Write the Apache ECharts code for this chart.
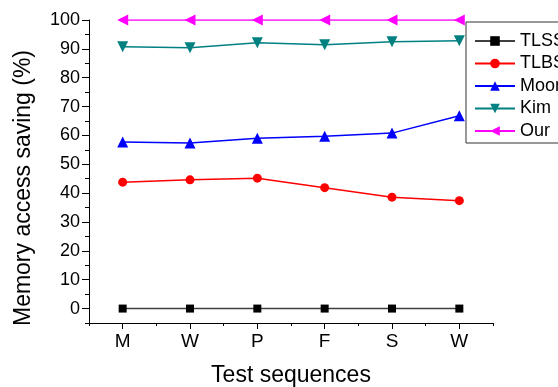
<!DOCTYPE html>
<html>
<head>
<meta charset="utf-8">
<script src="https://cdn.jsdelivr.net/npm/echarts@6/dist/echarts.min.js"></script>
<style>html,body{margin:0;padding:0;background:#fff}#c{width:558px;height:387px}</style>
</head>
<body>
<div id="c"></div>
<script>
var categories = ['M', 'W', 'P', 'F', 'S', 'W'];
var seriesNames = ['TLSS', 'TLBS', 'Moon', 'Kim', 'Our'];
var tlss = [0, 0, 0, 0, 0, 0];
var tlbs = [43.8, 44.6, 45.2, 41.9, 38.6, 37.4];
var moon = [57.7, 57.4, 59.0, 59.7, 60.8, 66.8];
var kim = [90.7, 90.4, 92.1, 91.4, 92.5, 92.8];
var our = [100, 100, 100, 100, 100, 100];
var yMajorTicks = [0, 10, 20, 30, 40, 50, 60, 70, 80, 90, 100];
var xTitle = 'Test sequences';
var yTitle = 'Memory access saving (%)';

var font = 'Liberation Sans, Arial, sans-serif';
var chart = echarts.init(document.getElementById('c'), null, {renderer: 'canvas'});

function mk(name, data, lineColor, symColor, symbol, size, rotate) {
  return {
    name: name, type: 'line', data: data,
    xAxisIndex: 0, yAxisIndex: 0,
    symbol: symbol, symbolSize: size, symbolRotate: rotate || 0,
    showAllSymbol: true,
    lineStyle: {color: lineColor, width: 1.5},
    itemStyle: {color: symColor},
    emphasis: {disabled: true},
    animation: false
  };
}

chart.setOption({
  animation: false,
  backgroundColor: '#fff',
  grid: {left: 89, right: 65, top: 20, bottom: 64, containLabel: false, outerBoundsMode: 'none'},
  xAxis: [{
    type: 'category', data: categories, boundaryGap: true,
    name: xTitle, nameLocation: 'middle', nameGap: 41, nameMoveOverlap: false,
    nameTextStyle: {fontFamily: font, fontSize: 23, color: '#000'},
    axisLine: {show: true, onZero: false, lineStyle: {color: '#000', width: 1}},
    axisTick: {show: true, alignWithLabel: true, length: 6, inside: false, lineStyle: {color: '#000'}},
    axisLabel: {fontFamily: font, fontSize: 19, color: '#000', margin: 9},
    splitLine: {show: false}
  }, {
    type: 'value', min: 0, max: 12, interval: 1, position: 'bottom',
    axisLine: {show: false, onZero: false},
    axisTick: {show: true, length: 3, lineStyle: {color: '#000'}},
    axisLabel: {show: false},
    splitLine: {show: false}
  }],
  yAxis: [{
    type: 'value', min: -5, max: 100, interval: 5,
    axisLine: {show: true, onZero: false, lineStyle: {color: '#000', width: 1}},
    axisTick: {show: true, length: 4, lineStyle: {color: '#000'}},
    axisLabel: {fontFamily: font, fontSize: 18, color: '#000', margin: 9,
      formatter: function (v) { return (v % 10 === 0) ? String(v) : ''; }},
    splitLine: {show: false}
  }, {
    type: 'value', min: -5, max: 100, position: 'left', offset: 0,
    axisLine: {show: false, onZero: false},
    axisTick: {show: true, length: 7, customValues: yMajorTicks, lineStyle: {color: '#000'}},
    axisLabel: {show: false},
    splitLine: {show: false}
  }],
  graphic: [{
    type: 'text', x: 24, y: 188, rotation: Math.PI / 2,
    style: {text: yTitle, fontFamily: font, fontSize: 23, fill: '#000', align: 'center', verticalAlign: 'middle'}
  }],
  legend: {
    orient: 'vertical', left: 466, top: 22,
    data: seriesNames,
    borderColor: '#333', borderWidth: 1, backgroundColor: '#fff',
    padding: [10, 60, 3, 8],
    itemWidth: 40, itemHeight: 12, itemGap: 4.5,
    textStyle: {fontFamily: font, fontSize: 18, color: '#000', lineHeight: 17}
  },
  series: [
    mk('TLSS', tlss, '#404040', '#000000', 'rect', 8),
    mk('TLBS', tlbs, '#FF0000', '#FF0000', 'circle', 9),
    mk('Moon', moon, '#0000FF', '#0000FF', 'triangle', 11),
    mk('Kim', kim, '#008080', '#008080', 'triangle', 11, 180),
    mk('Our', our, '#FF00FF', '#FF00FF', 'triangle', 11, 90)
  ]
});
</script>
</body>
</html>
